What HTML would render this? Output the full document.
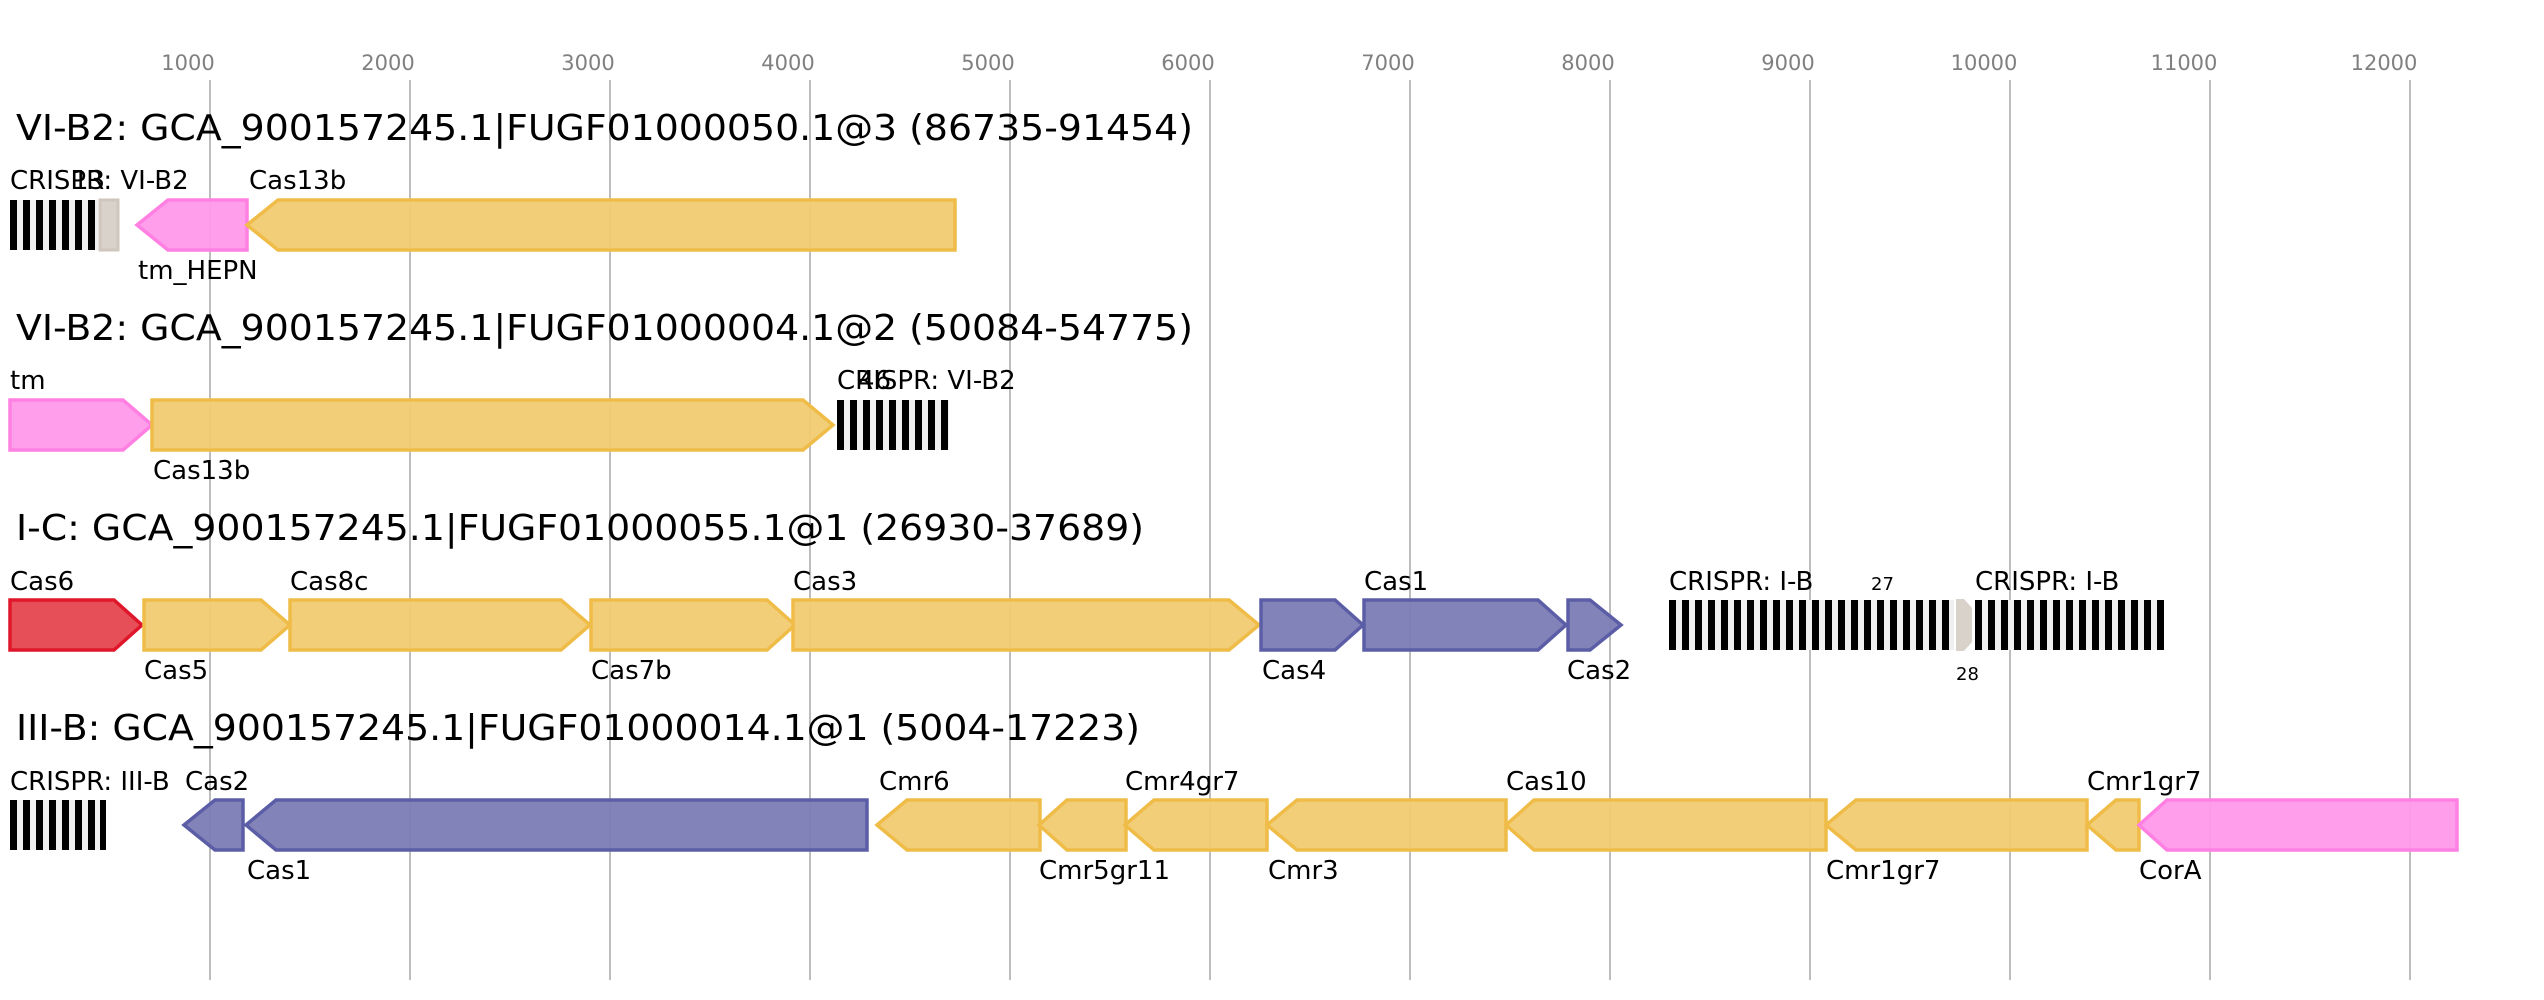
<!DOCTYPE html>
<html><head><meta charset="utf-8"><style>
html,body{margin:0;padding:0;background:#fff;}
svg{display:block;}
text{font-family:"DejaVu Sans","Liberation Sans",sans-serif;}
.t{font-size:36px;fill:#000;}
.l{font-size:26px;fill:#000;}
.k{font-size:21px;fill:#808080;text-anchor:middle;}
.y{fill:#f2cb72;stroke:#efbc48;stroke-width:3.5;fill-opacity:0.95;}
.p{fill:#ff99ea;stroke:#ff80e2;stroke-width:3.5;fill-opacity:0.95;}
.b{fill:#7b7db5;stroke:#5b5ea6;stroke-width:3.5;fill-opacity:0.95;}
.r{fill:#e5444f;stroke:#e0162b;stroke-width:3.5;fill-opacity:0.95;}
</style></head><body>
<svg width="2544" height="1000" viewBox="0 0 2544 1000" xmlns="http://www.w3.org/2000/svg">
<g stroke="#bdbdbd" stroke-width="2">
<line x1="210" y1="80" x2="210" y2="980"/><line x1="410" y1="80" x2="410" y2="980"/><line x1="610" y1="80" x2="610" y2="980"/><line x1="810" y1="80" x2="810" y2="980"/><line x1="1010" y1="80" x2="1010" y2="980"/><line x1="1210" y1="80" x2="1210" y2="980"/><line x1="1410" y1="80" x2="1410" y2="980"/><line x1="1610" y1="80" x2="1610" y2="980"/><line x1="1810" y1="80" x2="1810" y2="980"/><line x1="2010" y1="80" x2="2010" y2="980"/><line x1="2210" y1="80" x2="2210" y2="980"/><line x1="2410" y1="80" x2="2410" y2="980"/>
</g>
<g class="k">
<text x="188" y="70">1000</text><text x="388" y="70">2000</text><text x="588" y="70">3000</text><text x="788" y="70">4000</text><text x="988" y="70">5000</text><text x="1188" y="70">6000</text><text x="1388" y="70">7000</text><text x="1588" y="70">8000</text><text x="1788" y="70">9000</text><text x="1984" y="70">10000</text><text x="2184" y="70">11000</text><text x="2384" y="70">12000</text>
</g>
<text class="t" x="16" y="140" textLength="1177" lengthAdjust="spacingAndGlyphs">VI-B2: GCA_900157245.1|FUGF01000050.1@3 (86735-91454)</text>
<text class="t" x="16" y="340" textLength="1177" lengthAdjust="spacingAndGlyphs">VI-B2: GCA_900157245.1|FUGF01000004.1@2 (50084-54775)</text>
<text class="t" x="16" y="540" textLength="1128" lengthAdjust="spacingAndGlyphs">I-C: GCA_900157245.1|FUGF01000055.1@1 (26930-37689)</text>
<text class="t" x="16" y="740" textLength="1124" lengthAdjust="spacingAndGlyphs">III-B: GCA_900157245.1|FUGF01000014.1@1 (5004-17223)</text>

<defs>
<pattern id="cr1" x="10" y="0" width="13" height="50" patternUnits="userSpaceOnUse">
<rect width="13" height="50" fill="#f0f0f0"/><rect width="7" height="50" fill="#000"/>
</pattern>
<pattern id="cr2" x="837" y="0" width="13" height="50" patternUnits="userSpaceOnUse">
<rect width="13" height="50" fill="#f0f0f0"/><rect width="7" height="50" fill="#000"/>
</pattern>
</defs>
<!-- Row 1 -->
<rect x="10" y="200" width="88" height="50" fill="url(#cr1)"/>
<rect x="100" y="200" width="18" height="50" fill="#d9d2cb" stroke="#cfc6bd" stroke-width="3"/>
<polygon class="p" points="137,225 168,200 247,200 247,250 168,250"/>
<polygon class="y" points="247,225 278,200 955,200 955,250 278,250"/>
<text class="l" x="10" y="189">CRISPR: VI-B2</text><text class="l" x="72" y="189">13</text>
<text class="l" x="249" y="189">Cas13b</text>
<text class="l" x="138" y="279">tm_HEPN</text>
<!-- Row 2 -->
<polygon class="p" points="10,400 123,400 152,425 123,450 10,450"/>
<polygon class="y" points="152,400 803,400 833,425 803,450 152,450"/>
<rect x="837" y="400" width="112" height="50" fill="url(#cr2)"/>
<text class="l" x="10" y="389">tm</text>
<text class="l" x="837" y="389">CRISPR: VI-B2</text><text class="l" x="858" y="389">46</text>
<text class="l" x="153" y="479">Cas13b</text>
<!-- Row 3 -->
<polygon class="r" points="10,600 114,600 142,625 114,650 10,650"/>
<polygon class="y" points="144,600 261,600 290,625 261,650 144,650"/>
<polygon class="y" points="290,600 561,600 590,625 561,650 290,650"/>
<polygon class="y" points="591,600 767,600 795,625 767,650 591,650"/>
<polygon class="y" points="793,600 1229,600 1259,625 1229,650 793,650"/>
<polygon class="b" points="1261,600 1335,600 1363,625 1335,650 1261,650"/>
<polygon class="b" points="1364,600 1538,600 1566,625 1538,650 1364,650"/>
<polygon class="b" points="1568,600 1590,600 1621,625 1590,650 1568,650"/>
<rect x="1669" y="600" width="285" height="50" fill="#f0f0f0"/>
<rect x="1975" y="600" width="189" height="50" fill="#f0f0f0"/>
<polygon points="1956,599 1964,599 1972,608 1972,642 1964,651 1956,651" fill="#d9d2cb"/>
<text class="l" x="10" y="590">Cas6</text><text class="l" x="290" y="590">Cas8c</text><text class="l" x="793" y="590">Cas3</text><text class="l" x="1364" y="590">Cas1</text>
<text class="l" x="1669" y="590">CRISPR: I-B</text><text class="l" x="1975" y="590">CRISPR: I-B</text>
<text x="1871" y="590" style="font-size:18px">27</text><text x="1956" y="680" style="font-size:18px">28</text>
<text class="l" x="144" y="679">Cas5</text><text class="l" x="591" y="679">Cas7b</text><text class="l" x="1262" y="679">Cas4</text><text class="l" x="1567" y="679">Cas2</text>
<!-- Row 4 -->
<rect x="10" y="800" width="96" height="50" fill="#f0f0f0"/>
<polygon class="b" points="184,825 215,800 243,800 243,850 215,850"/>
<polygon class="b" points="246,825 276,800 867,800 867,850 276,850"/>
<polygon class="y" points="877,825 907,800 1040,800 1040,850 907,850"/>
<polygon class="y" points="1039,825 1067,800 1126,800 1126,850 1067,850"/>
<polygon class="y" points="1125,825 1154,800 1267,800 1267,850 1154,850"/>
<polygon class="y" points="1267,825 1297,800 1506,800 1506,850 1297,850"/>
<polygon class="y" points="1506,825 1534,800 1826,800 1826,850 1534,850"/>
<polygon class="y" points="1826,825 1856,800 2087,800 2087,850 1856,850"/>
<polygon class="y" points="2087,825 2116,800 2139,800 2139,850 2116,850"/>
<polygon class="p" points="2139,825 2167,800 2457,800 2457,850 2167,850"/>
<text class="l" x="10" y="790">CRISPR: III-B</text><text class="l" x="185" y="790">Cas2</text>
<text class="l" x="879" y="790">Cmr6</text><text class="l" x="1125" y="790">Cmr4gr7</text><text class="l" x="1506" y="790">Cas10</text><text class="l" x="2087" y="790">Cmr1gr7</text>
<text class="l" x="247" y="879">Cas1</text><text class="l" x="1039" y="879">Cmr5gr11</text><text class="l" x="1268" y="879">Cmr3</text><text class="l" x="1826" y="879">Cmr1gr7</text><text class="l" x="2139" y="879">CorA</text>
<g fill="#000">
<rect x="10" y="800" width="7" height="50"/><rect x="23" y="800" width="7" height="50"/><rect x="36" y="800" width="7" height="50"/><rect x="49" y="800" width="7" height="50"/><rect x="62" y="800" width="7" height="50"/><rect x="75" y="800" width="7" height="50"/><rect x="88" y="800" width="7" height="50"/><rect x="100" y="800" width="6" height="50"/>
<rect x="1669" y="600" width="7" height="50"/><rect x="1682" y="600" width="7" height="50"/><rect x="1695" y="600" width="7" height="50"/><rect x="1708" y="600" width="7" height="50"/><rect x="1721" y="600" width="7" height="50"/><rect x="1734" y="600" width="7" height="50"/><rect x="1747" y="600" width="7" height="50"/><rect x="1760" y="600" width="7" height="50"/><rect x="1773" y="600" width="7" height="50"/><rect x="1786" y="600" width="7" height="50"/><rect x="1799" y="600" width="7" height="50"/><rect x="1812" y="600" width="7" height="50"/><rect x="1825" y="600" width="7" height="50"/><rect x="1838" y="600" width="7" height="50"/><rect x="1851" y="600" width="7" height="50"/><rect x="1864" y="600" width="7" height="50"/><rect x="1877" y="600" width="7" height="50"/><rect x="1890" y="600" width="7" height="50"/><rect x="1903" y="600" width="7" height="50"/><rect x="1916" y="600" width="7" height="50"/><rect x="1929" y="600" width="7" height="50"/><rect x="1942" y="600" width="7" height="50"/>
<rect x="1975" y="600" width="7" height="50"/><rect x="1988" y="600" width="7" height="50"/><rect x="2001" y="600" width="7" height="50"/><rect x="2014" y="600" width="7" height="50"/><rect x="2027" y="600" width="7" height="50"/><rect x="2040" y="600" width="7" height="50"/><rect x="2053" y="600" width="7" height="50"/><rect x="2066" y="600" width="7" height="50"/><rect x="2079" y="600" width="7" height="50"/><rect x="2092" y="600" width="7" height="50"/><rect x="2105" y="600" width="7" height="50"/><rect x="2118" y="600" width="7" height="50"/><rect x="2131" y="600" width="7" height="50"/><rect x="2144" y="600" width="7" height="50"/><rect x="2157" y="600" width="7" height="50"/>
</g>
</svg>
</body></html>
